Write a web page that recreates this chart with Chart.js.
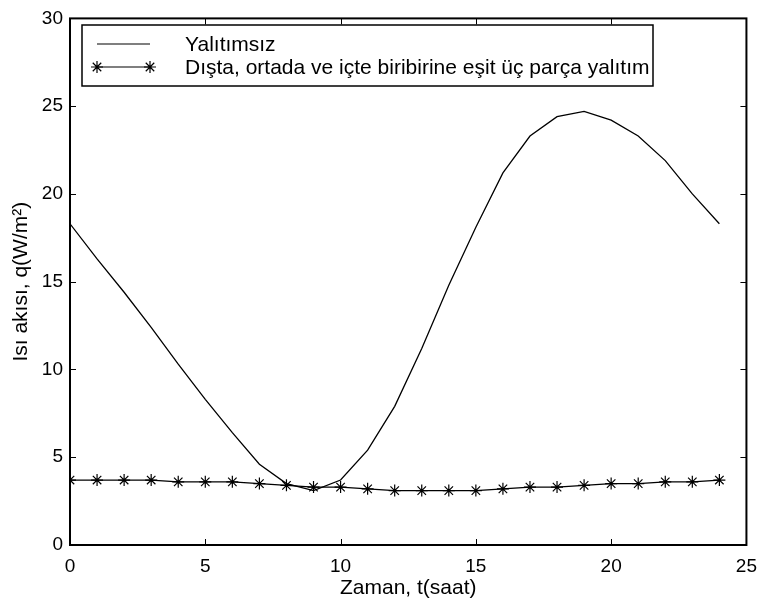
<!DOCTYPE html>
<html>
<head>
<meta charset="utf-8">
<script src="https://cdn.jsdelivr.net/npm/chart.js@4"></script>
<style>
  html, body { margin: 0; padding: 0; background: #fff; }
  canvas { display: block; }
</style>
</head>
<body>
<canvas id="myChart" width="767" height="606"></canvas>
<script>
const hours = [0, 1, 2, 3, 4, 5, 6, 7, 8, 9, 10, 11, 12, 13, 14, 15, 16, 17, 18, 19, 20, 21, 22, 23, 24];
const yalitimsiz = [18.3, 16.3, 14.4, 12.4, 10.3, 8.3, 6.4, 4.6, 3.5, 3.1, 3.7, 5.4, 7.9, 11.2, 14.8, 18.1, 21.2, 23.3, 24.4, 24.7, 24.2, 23.3, 21.9, 20.0, 18.3];
const ucParca = [3.7, 3.7, 3.7, 3.7, 3.6, 3.6, 3.6, 3.5, 3.4, 3.3, 3.3, 3.2, 3.1, 3.1, 3.1, 3.1, 3.2, 3.3, 3.3, 3.4, 3.5, 3.5, 3.6, 3.6, 3.7];
const seriesLabels = ['Yalıtımsız', 'Dışta, ortada ve içte biribirine eşit üç parça yalıtım'];
const xTicks = [0, 5, 10, 15, 20, 25];
const yTicks = [0, 5, 10, 15, 20, 25, 30];

const FONT = 'Liberation Sans, Arial, sans-serif';

const toPoints = (vals) => hours.map((h, i) => ({ x: h, y: vals[i] }));

// box round the plot, with inward ticks on all four sides
const boxPlugin = {
  id: 'box',
  afterDatasetsDraw(chart) {
    const { ctx, chartArea: a, scales } = chart;
    const len = 6;
    ctx.save();
    ctx.strokeStyle = '#000';
    ctx.lineWidth = 1;
    ctx.beginPath();
    xTicks.forEach((t) => {
      const px = Math.round(scales.x.getPixelForValue(t)) + 0.5;
      ctx.moveTo(px, a.bottom); ctx.lineTo(px, a.bottom - len);
      ctx.moveTo(px, a.top); ctx.lineTo(px, a.top + len);
    });
    yTicks.forEach((t) => {
      const py = Math.round(scales.y.getPixelForValue(t)) + 0.5;
      ctx.moveTo(a.left, py); ctx.lineTo(a.left + len, py);
      ctx.moveTo(a.right, py); ctx.lineTo(a.right - len, py);
    });
    ctx.stroke();
    ctx.lineWidth = 2;
    ctx.strokeRect(a.left, a.top, a.right - a.left, a.bottom - a.top);
    ctx.restore();
  },
};

// legend in a framed box inside the plot, like the original
const legendBox = {
  id: 'legendBox',
  afterDraw(chart) {
    const { ctx } = chart;
    const x0 = 82, y0 = 25, x1 = 653, y1 = 86;
    const rows = [44, 67];
    ctx.save();
    ctx.fillStyle = '#fff';
    ctx.fillRect(x0, y0, x1 - x0, y1 - y0);
    ctx.strokeStyle = '#000';
    ctx.lineWidth = 1.5;
    ctx.strokeRect(x0, y0, x1 - x0, y1 - y0);
    chart.data.datasets.forEach((ds, i) => {
      const y = rows[i];
      ctx.lineWidth = 1.2;
      ctx.beginPath();
      ctx.moveTo(97, y); ctx.lineTo(150, y);
      ctx.stroke();
      if (ds.pointRadius > 0) {
        [97, 150].forEach((px) => {
          Chart.helpers.drawPoint(ctx, { pointStyle: 'star', radius: ds.pointRadius, borderWidth: 1.2 }, px, y);
        });
      }
      ctx.fillStyle = '#000';
      ctx.font = `21px ${FONT}`;
      ctx.textBaseline = 'middle';
      ctx.fillText(ds.label, 185, y + 1);
    });
    ctx.restore();
  },
};

const chart = new Chart('myChart', {
  type: 'line',
  data: {
    datasets: [
      {
        label: seriesLabels[0],
        data: toPoints(yalitimsiz),
        borderColor: '#000',
        borderWidth: 1.3,
        pointRadius: 0,
        fill: false,
        tension: 0,
      },
      {
        label: seriesLabels[1],
        data: toPoints(ucParca),
        borderColor: '#000',
        borderWidth: 1.3,
        pointStyle: 'star',
        pointRadius: 6,
        pointBorderColor: '#000',
        pointBorderWidth: 1.2,
        fill: false,
        tension: 0,
      },
    ],
  },
  options: {
    responsive: false,
    animation: false,
    layout: { padding: { top: 12, right: 15, left: 0, bottom: 0 } },
    plugins: {
      legend: { display: false },
      tooltip: { enabled: false },
    },
    scales: {
      x: {
        type: 'linear',
        min: 0,
        max: 25,
        afterBuildTicks: (s) => { s.ticks = xTicks.map((v) => ({ value: v })); },
        afterFit: (s) => { s.height = 61; },
        grid: { display: false, drawTicks: false },
        border: { display: false },
        ticks: { color: '#000', font: { family: FONT, size: 19 }, padding: 10, maxRotation: 0 },
        title: {
          display: true,
          text: 'Zaman, t(saat)',
          color: '#000',
          font: { family: FONT, size: 21 },
          padding: { top: 0, bottom: 5 },
        },
      },
      y: {
        min: 0,
        max: 30,
        afterBuildTicks: (s) => { s.ticks = yTicks.map((v) => ({ value: v })); },
        afterFit: (s) => { s.width = 70; },
        grid: { display: false, drawTicks: false },
        border: { display: false },
        ticks: { color: '#000', font: { family: FONT, size: 19 }, padding: 7 },
        title: {
          display: true,
          text: 'Isı akısı, q(W/m²)',
          color: '#000',
          font: { family: FONT, size: 21 },
          padding: { top: 9, bottom: 0 },
        },
      },
    },
  },
  plugins: [boxPlugin, legendBox],
});
</script>
</body>
</html>
